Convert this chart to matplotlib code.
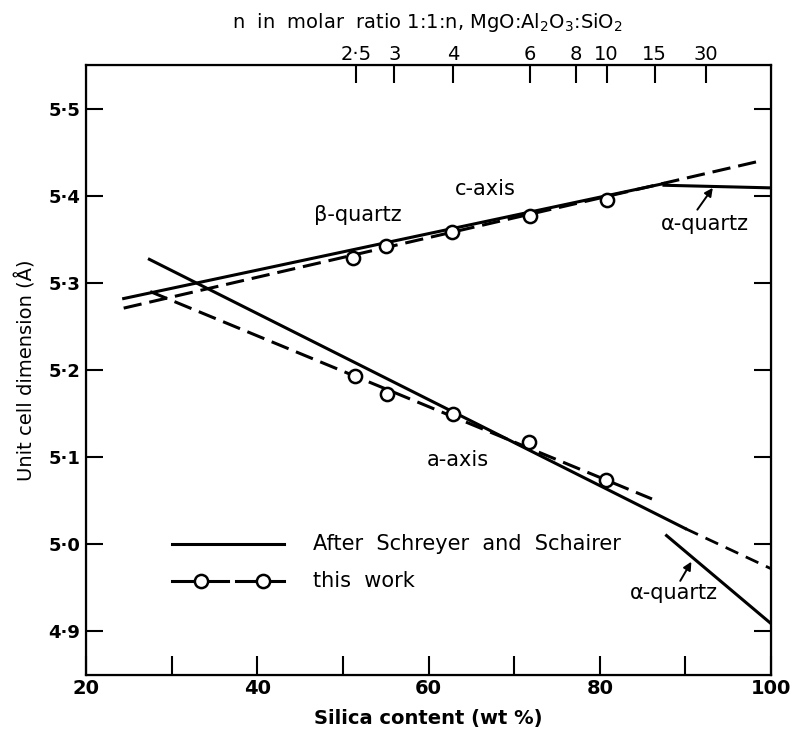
import matplotlib.pyplot as plt
import numpy as np

# c-axis: Schreyer & Schairer (solid), this work (dashed + points)
c_ss_x = [24.4, 87.5]
c_ss_y = [5.282, 5.414]
c_tw_x = [24.4, 98.8]
c_tw_y = [5.271, 5.440]
c_pts_x = [51.2, 55.0, 62.8, 71.8, 80.9]
c_pts_y = [5.328, 5.342, 5.358, 5.377, 5.395]
c_alpha_x = [87.5, 100.0]
c_alpha_y = [5.412, 5.409]

# a-axis
a_ss_x = [27.4, 90.0]
a_ss_y = [5.327, 5.018]
a_ext_x = [90.0, 100.0]
a_ext_y = [5.018, 4.972]
a_tw_x = [27.5, 86.1]
a_tw_y = [5.290, 5.052]
a_pts_x = [51.4, 55.2, 62.9, 71.7, 80.7]
a_pts_y = [5.193, 5.172, 5.149, 5.117, 5.074]
a_alpha_x = [87.8, 100.0]
a_alpha_y = [5.010, 4.909]

# top axis: n in MgO.Al2O3.nSiO2, placed at its silica wt%
n_labels = ['2·5', '3', '4', '6', '8', '10', '15', '30']
n_pos = [51.5, 56.0, 62.85, 71.8, 77.25, 80.8, 86.4, 92.4]

y_ticks = [4.9, 5.0, 5.1, 5.2, 5.3, 5.4, 5.5]
x_ticks = [20, 30, 40, 50, 60, 70, 80, 90, 100]

fs = 14
tfs = 15
lw = 2.2
dash = (0, (6, 2.6))

fig = plt.figure(figsize=(7.92, 7.35), dpi=100)
ax = fig.add_axes([86/792, 1 - 675/735, 685/792, (675-65)/735])

ax.plot(c_ss_x, c_ss_y, color='k', lw=lw)
ax.plot(c_tw_x, c_tw_y, color='k', lw=lw, ls=dash)
ax.plot(c_alpha_x, c_alpha_y, color='k', lw=lw)
ax.plot(a_ss_x, a_ss_y, color='k', lw=lw)
ax.plot(a_ext_x, a_ext_y, color='k', lw=2.0, ls=(0, (5, 3)))
ax.plot(a_tw_x, a_tw_y, color='k', lw=lw, ls=dash)
ax.plot(a_alpha_x, a_alpha_y, color='k', lw=lw)
ax.plot(c_pts_x, c_pts_y, 'o', ms=9.5, mfc='white', mec='k', mew=1.8, zorder=5)
ax.plot(a_pts_x, a_pts_y, 'o', ms=9.5, mfc='white', mec='k', mew=1.8, zorder=5)

ax.text(66.6, 5.408, 'c-axis', fontsize=tfs, ha='center', va='center')
ax.text(51.7, 5.378, 'β-quartz', fontsize=tfs, ha='center', va='center')
ax.text(63.4, 5.097, 'a-axis', fontsize=tfs, ha='center', va='center')

arrow = dict(arrowstyle='-|>', color='k', lw=1.4, shrinkA=0, shrinkB=0,
             mutation_scale=12)
ax.text(92.3, 5.367, 'α-quartz', fontsize=tfs, ha='center', va='center')
ax.annotate('', xy=(93.2, 5.409), xytext=(91.4, 5.384), arrowprops=arrow)
ax.text(88.65, 4.944, 'α-quartz', fontsize=tfs, ha='center', va='center')
ax.annotate('', xy=(90.7, 4.980), xytext=(89.4, 4.958), arrowprops=arrow)

# legend drawn by hand
ax.plot([30.1, 43.1], [5.0005, 5.0005], color='k', lw=lw)
ax.text(46.5, 5.0005, 'After  Schreyer  and  Schairer', fontsize=tfs, va='center')
ax.plot([30.1, 36.6], [4.958, 4.958], color='k', lw=lw)
ax.plot([37.5, 43.1], [4.958, 4.958], color='k', lw=lw)
ax.plot([33.4, 40.7], [4.958, 4.958], 'o', ms=9.5, mfc='white', mec='k', mew=1.8, zorder=5)
ax.text(46.5, 4.958, 'this  work', fontsize=tfs, va='center')

ax.set_xlim(20, 100)
ax.set_ylim(4.85, 5.55)
ax.set_xticks(x_ticks)
ax.set_xticklabels([str(v) if v % 20 == 0 else '' for v in x_ticks], fontsize=fs, fontweight='bold')
ax.set_yticks(y_ticks)
ax.set_yticklabels([('%.1f' % v).replace('.', '·') for v in y_ticks], fontsize=13, fontweight='bold')
ax.tick_params(axis='x', direction='in', length=14, width=1.5, pad=3)
ax.tick_params(axis='y', direction='in', length=12.5, width=1.5, left=True, right=True, pad=4)
for s in ax.spines.values():
    s.set_linewidth(1.6)

ax.set_xlabel('Silica content (wt %)', fontsize=fs, fontweight='bold', labelpad=8)
ax.set_ylabel('Unit cell dimension (Å)', fontsize=fs)
ax.yaxis.set_label_coords(-0.072, 0.5)

ax2 = ax.twiny()
ax2.set_xlim(20, 100)
ax2.set_xticks(n_pos)
ax2.set_xticklabels(n_labels, fontsize=fs)
ax2.tick_params(axis='x', direction='in', length=13, width=1.5, pad=1)
fig.text(427/792, 1 - 22/735, 'n  in  molar  ratio 1:1:n, MgO:Al$_2$O$_3$:SiO$_2$',
         fontsize=fs, ha='center', va='center')

fig.savefig('out.png', dpi=100)
